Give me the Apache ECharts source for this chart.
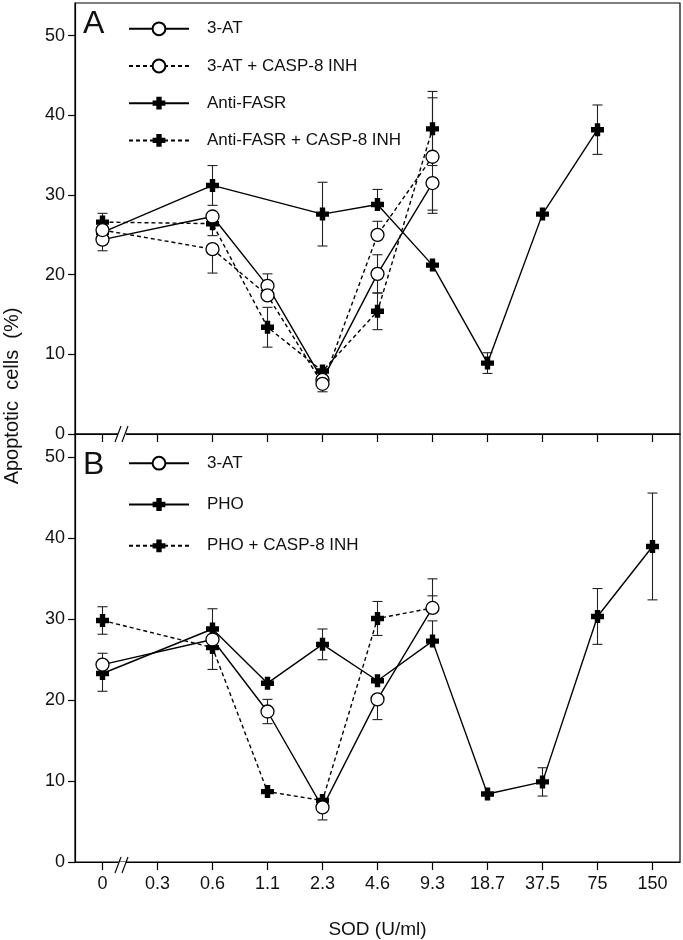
<!DOCTYPE html>
<html><head><meta charset="utf-8">
<script src="https://cdn.jsdelivr.net/npm/echarts@6/dist/echarts.min.js"></script>
<style>html,body{margin:0;padding:0;background:#fff}#c{width:683px;height:940px}</style>
</head><body><div id="c"></div>
<script>
// ---------- data ----------
const categories = ['0','0.3','0.6','1.1','2.3','4.6','9.3','18.7','37.5','75','150'];
const yTicks = [0,10,20,30,40,50];

// Panel A
const a3AT      = [24.4, null, 27.3, 18.6, 6.8, 20.1, 31.5, null, null, null, null];
const a3AT_up   = [null, null, null, 1.5, null, 2.4, null, null, null, null, null];
const a3AT_dn   = [1.4, null, null, null, null, 2.4, 3.8, null, null, null, null];

const a3ATc     = [25.6, null, 23.2, 17.4, 6.3, 25.0, 34.8, null, null, null, null];
const a3ATc_up  = [null, null, null, null, null, 1.7, 7.4, null, null, null, null];
const a3ATc_dn  = [null, null, 3.0, null, 1.0, null, 6.7, null, null, null, null];

const aFAS      = [25.3, null, 31.2, null, 27.6, 28.8, 21.2, 8.9, 27.6, 38.2, null];
const aFAS_up   = [null, null, 2.5, null, 4.0, 1.9, null, 1.3, null, 3.1, null];
const aFAS_dn   = [null, null, 2.5, null, 4.0, null, null, 1.3, null, 3.1, null];

const aFASc     = [26.6, null, 26.4, 13.4, 7.9, 15.4, 38.3, null, null, null, null];
const aFASc_up  = [1.1, null, null, 2.5, null, 2.3, 4.7, null, null, null, null];
const aFASc_dn  = [null, null, 1.5, 2.5, null, 2.3, 4.6, null, null, null, null];

// Panel B
const b3AT      = [24.4, null, 27.5, 18.6, 6.75, 20.1, 31.4, null, null, null, null];
const b3AT_up   = [1.4, null, null, 1.5, null, null, 3.6, null, null, null, null];
const b3AT_dn   = [null, null, null, 1.5, 1.55, 2.5, null, null, null, null, null];

const bPHO      = [23.3, null, 28.8, 22.1, 26.9, 22.4, 27.3, 8.4, 9.9, 30.35, 39.0];
const bPHO_up   = [null, null, 2.5, null, 1.9, null, 2.5, null, 1.75, 3.45, 6.6];
const bPHO_dn   = [2.2, null, null, null, 1.9, null, null, null, 1.75, 3.45, 6.6];

const bPHOc     = [29.85, null, 26.5, 8.7, 7.6, 30.1, 31.4, null, null, null, null];
const bPHOc_up  = [1.7, null, null, null, null, 2.1, 1.5, null, null, null, null];
const bPHOc_dn  = [1.7, null, 2.7, null, null, 2.1, null, null, null, null, null];
const bPHOc_noSymbol = [6];

const legendA = ['3-AT', '3-AT + CASP-8 INH', 'Anti-FASR', 'Anti-FASR + CASP-8 INH'];
const legendB = ['3-AT', 'PHO', 'PHO + CASP-8 INH'];

// ---------- styling ----------
const FONT = "'Liberation Sans Narrow','Liberation Sans',Arial,sans-serif";
const FONT2 = "'Liberation Sans',Arial,sans-serif";
const CROSS = 'path://M3.5,0H8.5V3.5H12V8.5H8.5V12H3.5V8.5H0V3.5H3.5Z';
const INK = '#111';

function lineSeries(name, data, g, dashed, circle, z) {
  return {
    type: 'line', name, data, xAxisIndex: g, yAxisIndex: g,
    connectNulls: true, showAllSymbol: true,
    symbol: circle ? 'circle' : CROSS,
    symbolSize: 13,
    lineStyle: { color: '#000', width: 1.4, type: dashed ? [4, 3] : 'solid' },
    itemStyle: circle ? { color: '#fff', borderColor: '#000', borderWidth: 1.3 }
                      : { color: '#000', borderWidth: 0 },
    z, animation: false, emphasis: { disabled: true }, silent: true
  };
}

function errSeries(vals, up, dn, g) {
  const data = [];
  vals.forEach((v, i) => {
    if (v == null || (up[i] == null && dn[i] == null)) return;
    data.push([i, v, up[i] == null ? v : v + up[i], dn[i] == null ? v : v - dn[i],
               up[i] == null ? 0 : 1, dn[i] == null ? 0 : 1]);
  });
  return {
    type: 'custom', xAxisIndex: g, yAxisIndex: g, data, z: 1, silent: true, animation: false,
    encode: { x: 0, y: [1, 2, 3] },
    renderItem(params, api) {
      const x = api.value(0);
      const hi = api.coord([x, api.value(2)]);
      const lo = api.coord([x, api.value(3)]);
      const w = 5;
      const st = { stroke: '#222', lineWidth: 1.1 };
      const ch = [{ type: 'line', shape: { x1: hi[0], y1: hi[1], x2: lo[0], y2: lo[1] }, style: st }];
      if (api.value(4)) ch.push({ type: 'line', shape: { x1: hi[0] - w, y1: hi[1], x2: hi[0] + w, y2: hi[1] }, style: st });
      if (api.value(5)) ch.push({ type: 'line', shape: { x1: lo[0] - w, y1: lo[1], x2: lo[0] + w, y2: lo[1] }, style: st });
      return { type: 'group', children: ch };
    }
  };
}

function xAxis(g, showLabels) {
  return {
    gridIndex: g, type: 'category', data: categories, boundaryGap: true,
    axisLine: { show: true, lineStyle: { color: '#000', width: 1.2 } },
    axisTick: { show: true, alignWithLabel: true, interval: 0, length: 8, lineStyle: { color: '#000', width: 1.2 } },
    axisLabel: { show: showLabels, interval: 0, fontSize: 18, margin: 13, color: INK, fontFamily: FONT },
    splitLine: { show: false },
    name: showLabels ? 'SOD (U/ml)' : '', nameLocation: 'middle', nameGap: 58,
    nameTextStyle: { fontSize: 19, color: INK, fontFamily: FONT }
  };
}
function yAxis(g, max) {
  return {
    gridIndex: g, type: 'value', min: 0, max,
    axisLine: { show: true, lineStyle: { color: '#000', width: 1.2 } },
    axisTick: { show: true, length: 7, customValues: yTicks, lineStyle: { color: '#000', width: 1.2 } },
    axisLabel: { customValues: yTicks, fontSize: 18, margin: 10, color: INK, fontFamily: FONT },
    splitLine: { show: false }
  };
}
function legend(names, top, gap) {
  return {
    data: names, orient: 'vertical', left: 128, top, padding: 0,
    itemWidth: 60, itemHeight: 16, itemGap: gap, selectedMode: false,
    textStyle: { fontSize: 17, color: INK, fontFamily: FONT, padding: [0, 0, 0, 13] }
  };
}

const bData = bPHOc.map((v, i) => bPHOc_noSymbol.includes(i) ? { value: v, symbol: 'none' } : v);

const option = {
  backgroundColor: '#fff',
  animation: false,
  grid: [
    { left: 75, top: 3, width: 605, height: 431, show: true, borderColor: '#000', borderWidth: 1.2, backgroundColor: 'transparent' },
    { left: 75, top: 434, width: 605, height: 431, show: true, borderColor: '#000', borderWidth: 1.2, backgroundColor: 'transparent' }
  ],
  xAxis: [xAxis(0, false), xAxis(1, true)],
  yAxis: [yAxis(0, 54.1), yAxis(1, 52.9)],
  legend: [legend(legendA, 20.3, 20.2), legend(legendB, 454.7, 24.3)],
  series: [
    errSeries(a3AT, a3AT_up, a3AT_dn, 0),
    errSeries(a3ATc, a3ATc_up, a3ATc_dn, 0),
    errSeries(aFAS, aFAS_up, aFAS_dn, 0),
    errSeries(aFASc, aFASc_up, aFASc_dn, 0),
    errSeries(b3AT, b3AT_up, b3AT_dn, 1),
    errSeries(bPHO, bPHO_up, bPHO_dn, 1),
    errSeries(bPHOc, bPHOc_up, bPHOc_dn, 1),
    lineSeries('3-AT', a3AT, 0, false, true, 4),
    lineSeries('3-AT + CASP-8 INH', a3ATc, 0, true, true, 4),
    lineSeries('Anti-FASR', aFAS, 0, false, false, 3),
    lineSeries('Anti-FASR + CASP-8 INH', aFASc, 0, true, false, 3),
    lineSeries('PHO', bPHO, 1, false, false, 3),
    lineSeries('PHO + CASP-8 INH', bData, 1, true, false, 3),
    lineSeries('3-AT', b3AT, 1, false, true, 4)
  ],
  graphic: [
    { type: 'text', left: 83, top: 8, style: { text: 'A', font: '32px ' + FONT2, fill: INK } },
    { type: 'text', left: 83, top: 449, style: { text: 'B', font: '32px ' + FONT2, fill: INK } },
    { type: 'text', x: 12, y: 396, rotation: Math.PI / 2,
      style: { text: 'Apoptotic  cells  (%)', font: '20px ' + FONT2, fill: INK, align: 'center', verticalAlign: 'middle' } },
    // axis breaks
    { type: 'rect', shape: { x: 118, y: 431, width: 8, height: 6 }, style: { fill: '#fff' }, z: 100 },
    { type: 'line', shape: { x1: 115, y1: 442, x2: 121, y2: 426 }, style: { stroke: '#000', lineWidth: 1.2 }, z: 101 },
    { type: 'line', shape: { x1: 122, y1: 442, x2: 128, y2: 426 }, style: { stroke: '#000', lineWidth: 1.2 }, z: 101 },
    { type: 'rect', shape: { x: 118, y: 862, width: 8, height: 6 }, style: { fill: '#fff' }, z: 100 },
    { type: 'line', shape: { x1: 115, y1: 873, x2: 121, y2: 857 }, style: { stroke: '#000', lineWidth: 1.2 }, z: 101 },
    { type: 'line', shape: { x1: 122, y1: 873, x2: 128, y2: 857 }, style: { stroke: '#000', lineWidth: 1.2 }, z: 101 }
  ]
};

const chart = echarts.init(document.getElementById('c'));
chart.setOption(option);
</script>
</body></html>
